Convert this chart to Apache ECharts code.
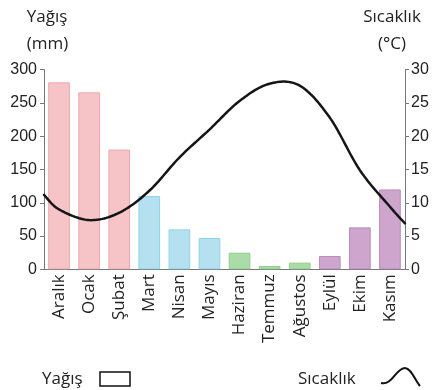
<!DOCTYPE html>
<html>
<head>
<meta charset="utf-8">
<script src="https://cdn.jsdelivr.net/npm/echarts@6/dist/echarts.min.js"></script>
<style>
html,body{margin:0;padding:0;background:#fff;}
#c{width:440px;height:390px;}
</style>
</head>
<body>
<div id="c"></div>
<script>
const months = ['Aralık','Ocak','Şubat','Mart','Nisan','Mayıs','Haziran','Temmuz','Ağustos','Eylül','Ekim','Kasım'];
const rainfall = [281, 266, 180, 110, 60, 47, 25, 5, 10, 20, 63, 120];
const temperature = [9.0, 7.4, 8.5, 11.8, 16.8, 21.0, 25.3, 27.9, 27.6, 22.8, 14.9, 9.4];
const tempStart = 11.2;
const tempEnd = 6.9;
const rainTicks = [0, 50, 100, 150, 200, 250, 300];
const tempTicks = [0, 5, 10, 15, 20, 25, 30];

const seasonFill = ['#f6c4c7','#f6c4c7','#f6c4c7','#b5e0ef','#b5e0ef','#b5e0ef','#abdba8','#abdba8','#abdba8','#cda5cd','#cda5cd','#cda5cd'];
const seasonBorder = ['#eea8ad','#eea8ad','#eea8ad','#8ed3ea','#8ed3ea','#8ed3ea','#8fcf8c','#8fcf8c','#8fcf8c','#b98cb9','#b98cb9','#b98cb9'];

const lineData = [[0, tempStart]]
  .concat(temperature.map((t, i) => [i + 0.5, t]))
  .concat([[months.length, tempEnd]]);

const font = '"Open Sans", "Noto Sans", sans-serif';
const numFont = '"Liberation Sans", Arial, sans-serif';
const txt = '#222';
const fs = 17;

function label(text, x, y, align) {
  return {type: 'text', x: x, y: y, style: {text: text, fontSize: fs, fill: txt, fontFamily: font, textAlign: align || 'left', textVerticalAlign: 'middle'}};
}

// Catmull-Rom spline through pixel points (no clamping, so peaks round naturally)
function spline(pts, steps) {
  const out = [];
  for (let i = 0; i < pts.length - 1; i++) {
    const p0 = pts[Math.max(i - 1, 0)], p1 = pts[i], p2 = pts[i + 1], p3 = pts[Math.min(i + 2, pts.length - 1)];
    for (let s = 0; s < steps; s++) {
      const t = s / steps, t2 = t * t, t3 = t2 * t;
      const h00 = 2*t3 - 3*t2 + 1, h10 = t3 - 2*t2 + t, h01 = -2*t3 + 3*t2, h11 = t3 - t2;
      const pt = [0, 0];
      for (let k = 0; k < 2; k++) {
        const m1 = (p2[k] - p0[k]) / 2, m2 = (p3[k] - p1[k]) / 2;
        pt[k] = h00*p1[k] + h10*m1 + h01*p2[k] + h11*m2;
      }
      out.push(pt);
    }
  }
  out.push(pts[pts.length - 1]);
  return out;
}

const chart = echarts.init(document.getElementById('c'), null, {renderer: 'canvas'});
chart.setOption({
  animation: false,
  grid: {left: 44, right: 35, top: 69.7, bottom: 120.7, containLabel: false},
  xAxis: [
    {
      type: 'category', data: months, boundaryGap: true,
      axisLine: {lineStyle: {color: '#777', width: 1}},
      axisTick: {inside: true, length: 4, lineStyle: {color: '#777'}},
      axisLabel: {rotate: 90, fontSize: fs, color: txt, fontFamily: font, margin: 5, interval: 0}
    },
    {
      type: 'value', min: 0, max: months.length, show: false, position: 'bottom'
    }
  ],
  yAxis: [
    {
      type: 'value', min: rainTicks[0], max: rainTicks[rainTicks.length-1], interval: 50,
      axisLine: {show: true, lineStyle: {color: '#777'}},
      axisTick: {show: true, length: 4, lineStyle: {color: '#777'}},
      axisLabel: {fontSize: 16, color: txt, fontFamily: numFont, margin: 7},
      splitLine: {show: false}
    },
    {
      type: 'value', min: tempTicks[0], max: tempTicks[tempTicks.length-1], interval: 5,
      position: 'right',
      axisLine: {show: true, lineStyle: {color: '#777'}},
      axisTick: {show: true, length: 4, lineStyle: {color: '#777'}},
      axisLabel: {fontSize: 16, color: txt, fontFamily: numFont, margin: 6},
      splitLine: {show: false}
    }
  ],
  series: [
    {
      type: 'bar', xAxisIndex: 0, yAxisIndex: 0, barWidth: '72%',
      data: rainfall.map((v, i) => ({value: v, itemStyle: {color: seasonFill[i], borderColor: seasonBorder[i], borderWidth: 1}})),
      z: 2
    },
    {
      type: 'custom', xAxisIndex: 1, yAxisIndex: 1, coordinateSystem: 'cartesian2d',
      data: lineData, encode: {x: 0, y: 1},
      renderItem: function (params, api) {
        if (params.dataIndex !== 0) return null;
        const pts = lineData.map(d => api.coord(d));
        return {
          type: 'polyline',
          shape: {points: spline(pts, 16)},
          style: {stroke: '#151515', lineWidth: 2.5, fill: null, lineJoin: 'round', lineCap: 'round'}
        };
      },
      z: 5
    }
  ],
  graphic: [
    label('Yağış', 47, 17, 'center'),
    label('(mm)', 47.5, 44, 'center'),
    label('Sıcaklık', 392, 17, 'center'),
    label('(°C)', 392, 44, 'center'),
    label('Yağış', 42, 379, 'left'),
    {type: 'rect', shape: {x: 100, y: 372, width: 30, height: 14}, style: {fill: '#fff', stroke: '#111', lineWidth: 1.5}},
    label('Sıcaklık', 298, 379, 'left'),
    {type: 'bezierCurve', shape: {x1: 381, y1: 383, cpx1: 392, cpy1: 386, cpx2: 396, cpy2: 368, x2: 405, y2: 368}, style: {stroke: '#111', lineWidth: 2, fill: null}},
    {type: 'bezierCurve', shape: {x1: 405, y1: 368, cpx1: 411, cpy1: 368, cpx2: 415, cpy2: 380, x2: 420, y2: 386}, style: {stroke: '#111', lineWidth: 2, fill: null}}
  ]
});
</script>
</body>
</html>
